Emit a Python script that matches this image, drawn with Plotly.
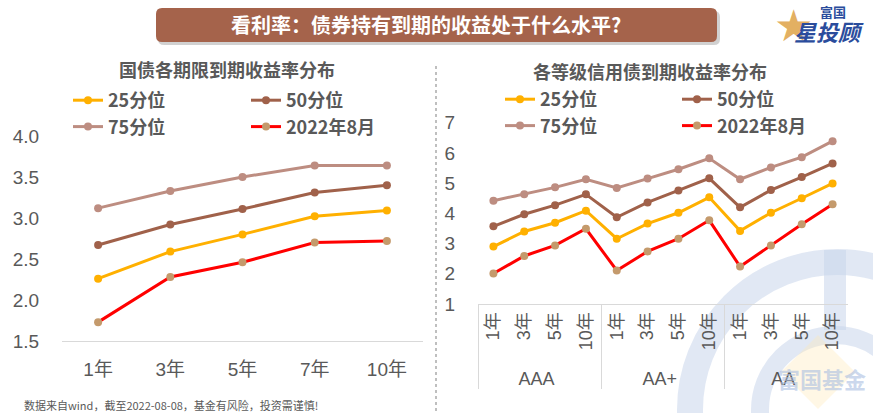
import plotly.graph_objects as go

W, H = 873, 413

# ---------------- data ----------------
tenors_gov = ['1年', '3年', '5年', '7年', '10年']
gov_p25 = [2.26, 2.59, 2.80, 3.02, 3.09]
gov_p50 = [2.67, 2.92, 3.11, 3.31, 3.40]
gov_p75 = [3.12, 3.33, 3.50, 3.64, 3.64]
gov_now = [1.73, 2.28, 2.46, 2.70, 2.72]

ratings = ['AAA', 'AA+', 'AA']
tenors_credit = ['1年', '3年', '5年', '10年']
cr_p25 = [2.90, 3.40, 3.69, 4.09, 3.16, 3.66, 4.02, 4.53, 3.42, 4.02, 4.50, 4.99]
cr_p50 = [3.57, 3.97, 4.27, 4.63, 3.87, 4.36, 4.76, 5.16, 4.20, 4.77, 5.20, 5.65]
cr_p75 = [4.42, 4.63, 4.86, 5.13, 4.84, 5.15, 5.46, 5.82, 5.13, 5.52, 5.86, 6.39]
cr_now = [2.01, 2.59, 2.94, 3.49, 2.11, 2.74, 3.16, 3.77, 2.24, 2.94, 3.64, 4.30]

series_names = ['25分位', '75分位', '50分位', '2022年8月']
line_colors = ['#FFB000', '#BD8D81', '#A0614A', '#FF0000']
marker_colors = ['#FFB000', '#BD8D81', '#A0614A', '#C49A6C']
groups = ['a', 'a', 'b', 'b']

# multicategory x for credit chart
cr_x = [[r for r in ratings for _ in tenors_credit],
        [t for _ in ratings for t in tenors_credit]]

def px(x):
    return x / W

def py(y):
    return 1 - y / H

TXT = '#595959'
TICKFONT = dict(family='Liberation Sans, Arial, Noto Sans CJK SC', size=18, color=TXT)
BOLD = 'Noto Sans CJK SC, Microsoft YaHei, sans-serif'

fig = go.Figure()

gov_vals = [gov_p25, gov_p75, gov_p50, gov_now]
cr_vals = [cr_p25, cr_p75, cr_p50, cr_now]

for name, lc, mc, g, v in zip(series_names, line_colors, marker_colors, groups, gov_vals):
    fig.add_trace(go.Scatter(
        x=tenors_gov, y=v, name=name, mode='lines+markers',
        line=dict(color=lc, width=3), marker=dict(color=mc, size=8),
        legend='legend', legendgroup='L' + g,
        xaxis='x', yaxis='y', hoverinfo='skip'))

for name, lc, mc, g, v in zip(series_names, line_colors, marker_colors, groups, cr_vals):
    fig.add_trace(go.Scatter(
        x=cr_x, y=v, name=name, mode='lines+markers',
        line=dict(color=lc, width=3), marker=dict(color=mc, size=8),
        legend='legend2', legendgroup='R' + g,
        xaxis='x2', yaxis='y2', hoverinfo='skip'))

# ---------------- decorations ----------------
def rrect(x0, y0, x1, y1, r):
    pts = [
        f'M{px(x0 + r)},{py(y0)}', f'L{px(x1 - r)},{py(y0)}',
        f'Q{px(x1)},{py(y0)} {px(x1)},{py(y0 + r)}', f'L{px(x1)},{py(y1 - r)}',
        f'Q{px(x1)},{py(y1)} {px(x1 - r)},{py(y1)}', f'L{px(x0 + r)},{py(y1)}',
        f'Q{px(x0)},{py(y1)} {px(x0)},{py(y1 - r)}', f'L{px(x0)},{py(y0 + r)}',
        f'Q{px(x0)},{py(y0)} {px(x0 + r)},{py(y0)}', 'Z']
    return ' '.join(pts)

shapes = []
# watermark
shapes.append(dict(type='circle', xref='paper', yref='paper', layer='below',
                   x0=px(690), x1=px(985), y0=py(262), y1=py(557),
                   line=dict(color='rgba(200,213,235,0.55)', width=26)))
shapes.append(dict(type='circle', xref='paper', yref='paper', layer='below',
                   x0=px(760), x1=px(910), y0=py(335), y1=py(485),
                   line=dict(color='rgba(200,213,235,0.55)', width=18)))
shapes.append(dict(type='rect', xref='paper', yref='paper', layer='below',
                   x0=px(824), x1=px(846), y0=py(250), y1=py(330),
                   fillcolor='rgba(200,213,235,0.55)', line=dict(width=0)))
shapes.append(dict(type='path', xref='paper', yref='paper', layer='below',
                   path=f'M{px(818)},{py(335)} L{px(855)},{py(372)} L{px(818)},{py(409)} L{px(781)},{py(372)} Z',
                   fillcolor='rgba(255,232,180,0.35)', line=dict(width=0)))
# banner shadow + banner
shapes.append(dict(type='path', xref='paper', yref='paper',
                   path=rrect(158, 11, 720, 45, 6),
                   fillcolor='rgba(0,0,0,0.18)', line=dict(width=0)))
shapes.append(dict(type='path', xref='paper', yref='paper',
                   path=rrect(156, 8, 717, 42, 6),
                   fillcolor='#A5634B', line=dict(width=0)))
# dashed separator
shapes.append(dict(type='line', xref='paper', yref='paper',
                   x0=px(436), x1=px(436), y0=py(66), y1=py(413),
                   line=dict(color='#BFBFBF', width=2, dash='3px,3px')))

def ann(text, x, y, font, xanchor='center'):
    return dict(text=text, x=px(x), y=py(y), xref='paper', yref='paper',
                xanchor=xanchor, yanchor='middle', showarrow=False, font=font)

annotations = [
    ann('看利率：债券持有到期的收益处于什么水平?', 426, 25,
        dict(family=BOLD, size=20, color='white', weight='bold')),
    ann('★', 793, 26, dict(family='DejaVu Sans', size=44, color='#E3B062')),
    ann('富国', 833, 11, dict(family=BOLD, size=13, color='#2A4C9C', weight='bold')),
    ann('<i>星投顾</i>', 829, 31, dict(family=BOLD, size=22, color='#2A4C9C', weight='bold')),
    ann('国债各期限到期收益率分布', 227, 69,
        dict(family=BOLD, size=18, color=TXT, weight='bold')),
    ann('各等级信用债到期收益率分布', 650, 71,
        dict(family=BOLD, size=18, color=TXT, weight='bold')),
    ann('富国基金', 822, 378,
        dict(family=BOLD, size=22, color='rgba(170,190,225,0.6)', weight='bold')),
    ann('数据来自wind，截至2022-08-08，基金有风险，投资需谨慎!', 22, 405,
        dict(family='Noto Sans CJK SC', size=11, color=TXT), xanchor='left'),
]

legend_font = dict(family=BOLD, size=18, color=TXT, weight='bold')

fig.update_layout(
    width=W, height=H,
    margin=dict(l=0, r=0, t=0, b=0, autoexpand=False),
    paper_bgcolor='white', plot_bgcolor='rgba(0,0,0,0)',
    shapes=shapes, annotations=annotations,
    xaxis=dict(domain=[px(62), px(423)], type='category', range=[-0.5, 4.5],
               showline=True, linecolor='#D9D9D9', linewidth=1, showgrid=False,
               zeroline=False, ticks='outside', ticklen=11, tickcolor='rgba(0,0,0,0)',
               tickfont=dict(TICKFONT, size=19), anchor='y', fixedrange=True),
    yaxis=dict(domain=[py(341), py(136)], range=[1.5, 4.0], dtick=0.5, tickformat='.1f',
               showgrid=False, zeroline=False, showline=False,
               ticks='outside', ticklen=18, tickcolor='rgba(0,0,0,0)',
               tickfont=dict(TICKFONT, size=19), anchor='x', fixedrange=True),
    xaxis2=dict(domain=[px(478), px(848)], type='multicategory', range=[-0.5, 11.5],
                showline=True, linecolor='#D9D9D9', linewidth=1, showgrid=False,
                showdividers=True, dividercolor='#D9D9D9', dividerwidth=1,
                tickangle=-90, tickfont=TICKFONT, anchor='y2', fixedrange=True),
    yaxis2=dict(domain=[py(304), py(122.7)], range=[1, 7], dtick=1,
                showgrid=False, zeroline=False, showline=False,
                ticks='outside', ticklen=18, tickcolor='rgba(0,0,0,0)',
                tickfont=dict(TICKFONT, size=19), anchor='x2', fixedrange=True),
    legend=dict(orientation='h', traceorder='grouped', x=px(68), y=py(82),
                xanchor='left', yanchor='top', entrywidth=133, entrywidthmode='pixels',
                font=legend_font, bgcolor='rgba(0,0,0,0)', tracegroupgap=0,
                itemclick=False, itemdoubleclick=False),
    legend2=dict(orientation='h', traceorder='grouped', x=px(500), y=py(81),
                 xanchor='left', yanchor='top', entrywidth=132, entrywidthmode='pixels',
                 font=legend_font, bgcolor='rgba(0,0,0,0)', tracegroupgap=0,
                 itemclick=False, itemdoubleclick=False),
    showlegend=True,
)

fig.write_html('out.html', config={'displayModeBar': False},
               post_script="document.body.style.margin='0';document.body.style.padding='0';")
